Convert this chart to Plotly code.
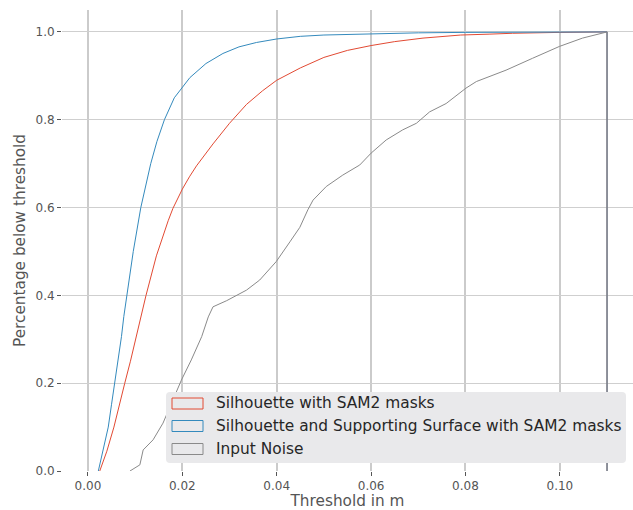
import plotly.graph_objects as go

# Upper end of the histogram bins (in m)
BIN_END = 0.11

# Cumulative fraction below threshold
red_name = "Silhouette with SAM2 masks"
red_x = [0.0025, 0.0040, 0.0055, 0.0066, 0.0078, 0.0090, 0.0101, 0.0112, 0.0123,
         0.0145, 0.0160, 0.0170, 0.0180, 0.0190, 0.0200, 0.0215, 0.0230, 0.0265,
         0.0300, 0.0336, 0.0370, 0.0400, 0.0450, 0.0500, 0.0550, 0.0600, 0.0650,
         0.0710, 0.0790, 0.0850, 0.0900, 0.1000, 0.1100]
red_y = [0.0, 0.045, 0.10, 0.15, 0.20, 0.25, 0.30, 0.35, 0.40,
         0.49, 0.540, 0.570, 0.598, 0.622, 0.642, 0.670, 0.695, 0.745,
         0.792, 0.835, 0.866, 0.890, 0.918, 0.942, 0.958, 0.969, 0.978,
         0.986, 0.993, 0.995, 0.997, 0.999, 1.0]

blue_name = "Silhouette and Supporting Surface with SAM2 masks"
blue_x = [0.0022, 0.0032, 0.0043, 0.0050, 0.0057, 0.0064, 0.0071, 0.0076, 0.0082,
          0.0096, 0.0112, 0.0133, 0.0146, 0.0162, 0.0183, 0.0200, 0.0216, 0.0250,
          0.0286, 0.0320, 0.0357, 0.0400, 0.0450, 0.0500, 0.0600, 0.0700, 0.0800,
          0.0900, 0.1000, 0.1100]
blue_y = [0.0, 0.048, 0.10, 0.152, 0.20, 0.253, 0.306, 0.352, 0.40,
          0.50, 0.60, 0.70, 0.75, 0.80, 0.85, 0.875, 0.896, 0.928,
          0.951, 0.966, 0.976, 0.984, 0.990, 0.993, 0.996, 0.998, 0.999,
          0.9995, 0.9998, 1.0]

gray_name = "Input Noise"
gray_x = [0.0089, 0.0110, 0.0117, 0.0138, 0.0159, 0.0180, 0.0198, 0.0219, 0.0241,
          0.0255, 0.0265, 0.0294, 0.0336, 0.0364, 0.0399, 0.0428, 0.0449, 0.0466,
          0.0477, 0.0505, 0.0540, 0.0576, 0.0600, 0.0632, 0.0667, 0.0696, 0.0724,
          0.0759, 0.0787, 0.0801, 0.0823, 0.0886, 0.0942, 0.0999, 0.1048, 0.1100]
gray_y = [0.0, 0.014, 0.048, 0.071, 0.109, 0.162, 0.207, 0.253, 0.306,
          0.351, 0.374, 0.388, 0.412, 0.435, 0.477, 0.522, 0.555, 0.595,
          0.617, 0.648, 0.674, 0.697, 0.724, 0.754, 0.777, 0.792, 0.818,
          0.837, 0.860, 0.872, 0.887, 0.913, 0.940, 0.967, 0.986, 1.0]

x_ticks = [0.00, 0.02, 0.04, 0.06, 0.08, 0.10]
x_tick_text = ["0.00", "0.02", "0.04", "0.06", "0.08", "0.10"]
y_ticks = [0.0, 0.2, 0.4, 0.6, 0.8, 1.0]
y_tick_text = ["0.0", "0.2", "0.4", "0.6", "0.8", "1.0"]

series = [
    (red_name, red_x, red_y, "#E24A33"),
    (blue_name, blue_x, blue_y, "#348ABD"),
    (gray_name, gray_x, gray_y, "#8a8a8a"),
]

FONT = "DejaVu Sans"
W, H = 633, 510
ML, MR, MT, MB = 62, 0, 10, 39
PW, PH = W - ML - MR, H - MT - MB


def px_x(p):
    return (p - ML) / PW


def px_y(p):
    return (H - MB - p) / PH


fig = go.Figure()
for name, xs, ys, color in series:
    fig.add_trace(go.Scatter(
        x=xs + [BIN_END],
        y=ys + [0.0],
        mode="lines",
        name=name,
        line=dict(color=color, width=1),
        hoverinfo="skip",
        showlegend=False,
    ))

# Manual legend (matplotlib-like rectangle patches)
shapes = []
annotations = []
lx0, lx1, ly0, ly1, rad = 166, 626, 392, 463, 4
path = (
    f"M{px_x(lx0 + rad)},{px_y(ly0)} L{px_x(lx1 - rad)},{px_y(ly0)} "
    f"Q{px_x(lx1)},{px_y(ly0)} {px_x(lx1)},{px_y(ly0 + rad)} "
    f"L{px_x(lx1)},{px_y(ly1 - rad)} Q{px_x(lx1)},{px_y(ly1)} {px_x(lx1 - rad)},{px_y(ly1)} "
    f"L{px_x(lx0 + rad)},{px_y(ly1)} Q{px_x(lx0)},{px_y(ly1)} {px_x(lx0)},{px_y(ly1 - rad)} "
    f"L{px_x(lx0)},{px_y(ly0 + rad)} Q{px_x(lx0)},{px_y(ly0)} {px_x(lx0 + rad)},{px_y(ly0)} Z"
)
shapes.append(dict(type="path", xref="paper", yref="paper", path=path,
                   fillcolor="#e9e9eb", line=dict(width=0), layer="above"))
row_centers = [403.5, 426, 449]
for (name, _, _, color), cy in zip(series, row_centers):
    shapes.append(dict(type="rect", xref="paper", yref="paper",
                       x0=px_x(172), x1=px_x(203), y0=px_y(cy - 5.5), y1=px_y(cy + 5.5),
                       line=dict(color=color, width=1), fillcolor="rgba(0,0,0,0)",
                       layer="above"))
    annotations.append(dict(xref="paper", yref="paper", x=px_x(214), y=px_y(cy),
                            xanchor="left", yanchor="middle", showarrow=False,
                            text=name, font=dict(family=FONT, size=15.4, color="#262626")))

fig.update_layout(
    width=W, height=H,
    margin=dict(l=ML, r=MR, t=MT, b=MB),
    paper_bgcolor="white",
    plot_bgcolor="white",
    font=dict(family=FONT, color="#555555", size=12),
    showlegend=False,
    shapes=shapes,
    annotations=annotations,
)
fig.update_xaxes(
    range=[-0.0055, 0.1155],
    tickvals=x_ticks, ticktext=x_tick_text,
    showgrid=True, gridcolor="#cbcbcb", gridwidth=1.6,
    zeroline=False, showline=False,
    ticks="outside", ticklen=4, tickcolor="#555555",
    tickfont=dict(size=12, color="#555555"),
    title=dict(text="Threshold in m", font=dict(size=15.3, color="#555555"), standoff=6),
)
fig.update_yaxes(
    range=[0, 1.05],
    tickvals=y_ticks, ticktext=y_tick_text,
    showgrid=True, gridcolor="#cfcfcf", gridwidth=1,
    zeroline=False, showline=False,
    ticks="outside", ticklen=4, tickcolor="#555555",
    tickfont=dict(size=12, color="#555555"),
    title=dict(text="Percentage below threshold", font=dict(size=15.3, color="#555555"), standoff=6),
)

fig.write_html("out.html")
